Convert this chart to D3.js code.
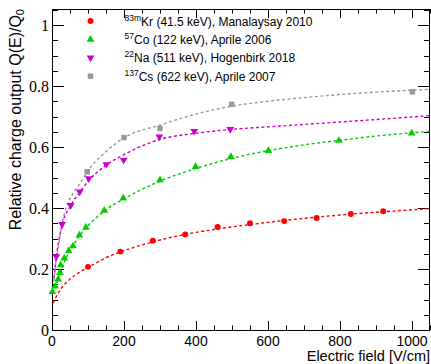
<!DOCTYPE html>
<html>
<head>
<meta charset="utf-8">
<script src="https://cdn.jsdelivr.net/npm/d3@7"></script>
<style>
  html, body { margin: 0; padding: 0; background: #fff; }
  svg { display: block; }
  .tick-y { font-family: 'Liberation Serif', 'Times New Roman', serif; font-size: 16px; }
  .tick-x { font-family: 'Liberation Sans', Arial, sans-serif; font-size: 14px; }
  .axis-title { font-family: 'Liberation Sans', Arial, sans-serif; font-size: 14.5px; }
  .legend-text { font-family: 'Liberation Sans', Arial, sans-serif; font-size: 12px; }
</style>
</head>
<body>
<div id="chart"></div>
<script>
// measured points (field in V/cm, relative charge output)
const fieldKr = [100, 190, 280, 370, 460, 550, 645, 735, 830, 920]
const qKr     = [0.207, 0.257, 0.293, 0.313, 0.338, 0.350, 0.357, 0.367, 0.380, 0.389]

const fieldCo = [1, 9, 17, 22, 24, 34, 46, 58, 76, 94, 145, 198, 300, 399, 497, 601, 797, 999]
const qCo     = [0.125, 0.143, 0.166, 0.188, 0.213, 0.235, 0.259, 0.275, 0.311, 0.336, 0.392, 0.432, 0.492, 0.535, 0.568, 0.588, 0.621, 0.645]

const fieldNa = [12, 28, 52, 77, 102, 151, 199, 298, 395, 495]
const qNa     = [0.241, 0.347, 0.409, 0.453, 0.497, 0.543, 0.557, 0.634, 0.652, 0.658]

const fieldCs = [98, 200, 300, 499, 1001]
const qCs     = [0.519, 0.631, 0.661, 0.740, 0.781]

// fitted curves
const fitKrE = [3, 10, 25, 50, 75, 100, 150, 200, 300, 400, 500, 600, 700, 800, 900, 1050]
const fitKrQ = [0.088, 0.105, 0.135, 0.167, 0.188, 0.205, 0.237, 0.260, 0.295, 0.320, 0.338, 0.353, 0.366, 0.377, 0.386, 0.398]

const fitCoE = [1, 10, 20, 30, 45, 60, 80, 100, 150, 200, 300, 400, 500, 600, 700, 800, 900, 1050]
const fitCoQ = [0.12, 0.145, 0.178, 0.21, 0.25, 0.28, 0.315, 0.342, 0.394, 0.43, 0.488, 0.53, 0.563, 0.588, 0.607, 0.622, 0.636, 0.651]

const fitNaE = [6, 12, 20, 28, 52, 77, 102, 150, 200, 300, 400, 500, 600, 700, 800, 900, 1050]
const fitNaQ = [0.17, 0.24, 0.30, 0.345, 0.408, 0.452, 0.49, 0.54, 0.575, 0.625, 0.645, 0.658, 0.666, 0.674, 0.682, 0.69, 0.703]

const fitCsE = [5, 10, 17, 25, 40, 60, 77, 100, 150, 200, 300, 400, 500, 600, 700, 800, 900, 1050]
const fitCsQ = [0.16, 0.215, 0.265, 0.33, 0.404, 0.45, 0.48, 0.522, 0.585, 0.63, 0.672, 0.708, 0.734, 0.75, 0.762, 0.772, 0.78, 0.789]

const xTicks = [0, 200, 400, 600, 800, 1000]
const yTicks = [0, 0.2, 0.4, 0.6, 0.8, 1]

const series = [
  { sup: '83m', label: 'Kr (41.5 keV), Manalaysay 2010', color: '#ff0000', symbol: d3.symbolCircle, size: 28, rot: 0,
    x: fieldKr, y: qKr, fx: fitKrE, fy: fitKrQ },
  { sup: '57', label: 'Co (122 keV), Aprile 2006', color: '#00cc00', symbol: d3.symbolTriangle, size: 26, rot: 0,
    x: fieldCo, y: qCo, fx: fitCoE, fy: fitCoQ },
  { sup: '22', label: 'Na (511 keV), Hogenbirk 2018', color: '#cc00cc', symbol: d3.symbolTriangle, size: 26, rot: 180,
    x: fieldNa, y: qNa, fx: fitNaE, fy: fitNaQ },
  { sup: '137', label: 'Cs (622 keV), Aprile 2007', color: '#999999', symbol: d3.symbolSquare, size: 30, rot: 0,
    x: fieldCs, y: qCs, fx: fitCsE, fy: fitCsQ }
]

const width = 431, height = 364
const margin = { top: 9, right: 1, bottom: 34, left: 52 }
const innerW = width - margin.left - margin.right
const innerH = height - margin.top - margin.bottom

const xScale = d3.scaleLinear().domain([0, 1050]).range([0, innerW])
const yScale = d3.scaleLinear().domain([0, 1.0525]).range([innerH, 0])

const svg = d3.select('#chart').append('svg')
  .attr('width', width)
  .attr('height', height)

svg.append('defs').append('clipPath').attr('id', 'plot-clip')
  .append('rect').attr('width', innerW).attr('height', innerH)

const g = svg.append('g').attr('transform', `translate(${margin.left},${margin.top})`)

// ticks (ROOT style, inside the frame, on all four sides)
const xMinor = d3.range(0, 1051, 50)
const yMinor = d3.range(0, 1.051, 0.05)
const tickG = g.append('g').attr('stroke', '#000').attr('stroke-width', 1)
xMinor.forEach(v => {
  const major = Math.abs(v % 200) < 1e-6
  const len = major ? 9 : 4.5
  const x = Math.round(xScale(v)) + 0.5
  tickG.append('line').attr('x1', x).attr('x2', x).attr('y1', innerH).attr('y2', innerH - len)
  tickG.append('line').attr('x1', x).attr('x2', x).attr('y1', 0).attr('y2', len)
})
yMinor.forEach(v => {
  const major = Math.abs(Math.round(v * 100) % 20) < 1e-6
  const len = major ? 12 : 6
  const y = Math.round(yScale(v)) + 0.5
  tickG.append('line').attr('x1', 0).attr('x2', len).attr('y1', y).attr('y2', y)
  tickG.append('line').attr('x1', innerW).attr('x2', innerW - len).attr('y1', y).attr('y2', y)
})

// frame
g.append('rect')
  .attr('x', 0.5).attr('y', 0.5)
  .attr('width', innerW - 1).attr('height', innerH)
  .attr('fill', 'none').attr('stroke', '#000').attr('stroke-width', 1)

// tick labels
g.selectAll('.tick-x').data(xTicks).join('text')
  .attr('class', 'tick-x')
  .attr('x', d => xScale(d))
  .attr('y', innerH + 15.5)
  .attr('text-anchor', 'middle')
  .text(d => d)

g.selectAll('.tick-y').data(yTicks).join('text')
  .attr('class', 'tick-y')
  .attr('x', -3)
  .attr('y', d => yScale(d) + 6)
  .attr('text-anchor', 'end')
  .text(d => d3.format('~g')(d))

// axis titles
svg.append('text')
  .attr('class', 'axis-title')
  .attr('x', 430)
  .attr('y', 361)
  .attr('text-anchor', 'end')
  .text('Electric field [V/cm]')

const yTitle = svg.append('text')
  .attr('class', 'axis-title')
  .attr('transform', 'translate(21,9) rotate(-90)')
  .attr('text-anchor', 'end')
  .style('font-size', '16px')
yTitle.append('tspan').text('Relative charge output Q(E)/Q')
yTitle.append('tspan').attr('dy', 3).style('font-size', '11px').text('0')

// fits
const line = d3.line()
  .x(d => xScale(d[0]))
  .y(d => yScale(d[1]))
  .curve(d3.curveMonotoneX)

const fitG = g.append('g').attr('clip-path', 'url(#plot-clip)')
series.forEach(s => {
  fitG.append('path')
    .datum(d3.zip(s.fx, s.fy))
    .attr('d', line)
    .attr('fill', 'none')
    .attr('stroke', s.color)
    .attr('stroke-width', 1.4)
    .attr('stroke-dasharray', '3,2.5')
})

// markers
series.forEach(s => {
  const sym = d3.symbol().type(s.symbol).size(s.size)
  g.append('g').selectAll('path')
    .data(d3.zip(s.x, s.y))
    .join('path')
    .attr('d', sym)
    .attr('fill', s.color)
    .attr('transform', d => `translate(${xScale(d[0])},${yScale(d[1])}) rotate(${s.rot})`)
})

// legend
const legend = svg.append('g')
series.forEach((s, i) => {
  const cy = 21 + i * 18.4
  legend.append('path')
    .attr('d', d3.symbol().type(s.symbol).size(s.size)())
    .attr('fill', s.color)
    .attr('transform', `translate(90.5,${cy}) rotate(${s.rot})`)
  const t = legend.append('text')
    .attr('class', 'legend-text')
    .attr('x', 124.5)
    .attr('y', cy + 4.5)
  t.append('tspan').attr('font-size', '8.5px').attr('dy', -5).text(s.sup)
  t.append('tspan').attr('dy', 5).text(s.label)
})
</script>
</body>
</html>
